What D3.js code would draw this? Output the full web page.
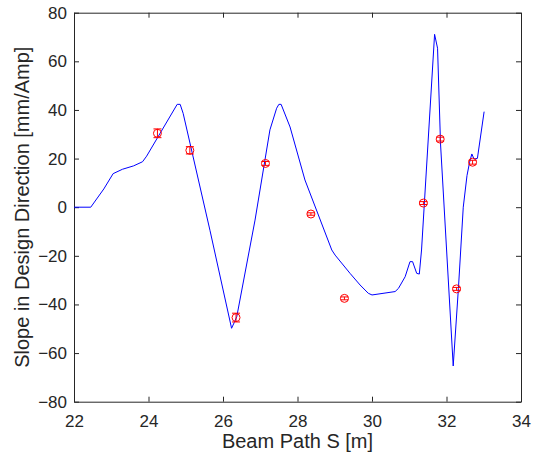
<!DOCTYPE html>
<html>
<head>
<meta charset="utf-8">
<script src="https://cdn.jsdelivr.net/npm/d3@7"></script>
<style>
  body { margin: 0; background: #fff; }
  text { font-family: "Liberation Sans", Arial, sans-serif; fill: #262626; }
</style>
</head>
<body>
<svg id="chart" width="539" height="454"></svg>
<script>
// Simulated curve (blue line)
const lineS = [22.0, 22.45, 22.8, 23.05, 23.3, 23.6, 23.84, 23.95, 24.77, 24.85, 24.93, 25.65, 26.23, 26.3, 26.37, 26.86, 27.26, 27.44, 27.5, 27.56, 27.8, 28.2, 28.92, 29.01, 29.41, 29.68, 29.9, 30.0, 30.62, 30.71, 30.89, 31.02, 31.09, 31.2, 31.27, 31.33, 31.68, 31.76, 31.84, 32.18, 32.32, 32.45, 32.55, 32.62, 32.68, 32.74, 32.83, 33.01];
const lineSlope = [0, 0, 7.5, 13.8, 15.6, 17.0, 18.7, 21.0, 42.3, 42.3, 38.6, -9.5, -49.8, -47.5, -45.0, -5.3, 31.8, 40.7, 42.3, 42.3, 33.0, 11.2, -17.6, -19.7, -27.2, -32.0, -35.4, -36.1, -34.7, -33.4, -28.6, -22.4, -22.4, -27.2, -27.5, -17.6, 71.1, 65.4, 26.0, -65.3, -33.4, 0.0, 13.0, 18.5, 21.9, 19.8, 20.1, 39.3];

// Measured points (red circles with error bars)
const measS = [24.24, 25.11, 26.35, 27.14, 28.36, 29.26, 31.38, 31.83, 32.27, 32.70];
const measSlope = [30.4, 23.4, -45.4, 18.0, -2.8, -37.5, 1.7, 28.0, -33.6, 18.5];
const measErr = [1.8, 1.5, 1.8, 0.8, 0.5, 0.6, 0.6, 0.8, 0.6, 0.8];

const xTicks = [22, 24, 26, 28, 30, 32, 34];
const yTicks = [-80, -60, -40, -20, 0, 20, 40, 60, 80];
const xLabel = "Beam Path S [m]";
const yLabel = "Slope in Design Direction [mm/Amp]";

const svg = d3.select("#chart");
const mLeft = 74, mRight = 521, mTop = 12.7, mBottom = 401.7;
const x = d3.scaleLinear().domain([22, 34]).range([mLeft, mRight]);
const y = d3.scaleLinear().domain([-80, 80]).range([mBottom, mTop]);
const axisColor = "#262626";

function styleAxis(g) {
  g.selectAll("path").attr("stroke", axisColor).attr("stroke-width", 1);
  g.selectAll("line").attr("stroke", axisColor);
  g.selectAll("text").style("font-size", "17px").attr("fill", axisColor);
}
svg.append("g").attr("transform", `translate(0,${mBottom})`)
  .call(d3.axisBottom(x).tickValues(xTicks).tickSizeInner(-5).tickSizeOuter(0).tickPadding(13).tickFormat(d3.format("d")))
  .call(styleAxis);
svg.append("g").attr("transform", `translate(0,${mTop})`)
  .call(d3.axisTop(x).tickValues(xTicks).tickSizeInner(-5).tickSizeOuter(0).tickFormat(""))
  .call(styleAxis);
svg.append("g").attr("transform", `translate(${mLeft},0)`)
  .call(d3.axisLeft(y).tickValues(yTicks).tickSizeInner(-5).tickSizeOuter(0).tickPadding(7).tickFormat(d3.format("d")))
  .call(styleAxis);
svg.append("g").attr("transform", `translate(${mRight},0)`)
  .call(d3.axisRight(y).tickValues(yTicks).tickSizeInner(-5).tickSizeOuter(0).tickFormat(""))
  .call(styleAxis);

// Blue line
const lineData = lineS.map((s, i) => [s, lineSlope[i]]);
svg.append("path")
  .datum(lineData)
  .attr("fill", "none")
  .attr("stroke", "#0000ff")
  .attr("stroke-width", 1)
  .attr("d", d3.line().x(d => x(d[0])).y(d => y(d[1])));

// Error bars and markers
const meas = measS.map((s, i) => ({ s, v: measSlope[i], e: measErr[i] }));
const eb = svg.append("g").attr("stroke", "#ff0000").attr("stroke-width", 1).attr("fill", "none");
const cap = 4;
meas.forEach(d => {
  const cx = x(d.s), y1 = y(d.v + d.e), y2 = y(d.v - d.e);
  eb.append("line").attr("x1", cx).attr("x2", cx).attr("y1", y1).attr("y2", y2);
  eb.append("line").attr("x1", cx - cap).attr("x2", cx + cap).attr("y1", y1).attr("y2", y1);
  eb.append("line").attr("x1", cx - cap).attr("x2", cx + cap).attr("y1", y2).attr("y2", y2);
  eb.append("circle").attr("cx", cx).attr("cy", y(d.v)).attr("r", 4);
});

// Axis labels
svg.append("text")
  .attr("x", (mLeft + mRight) / 2).attr("y", 448)
  .attr("text-anchor", "middle")
  .style("font-size", "20px")
  .text(xLabel);
svg.append("text")
  .attr("transform", `translate(29,${(mTop + mBottom) / 2}) rotate(-90)`)
  .attr("text-anchor", "middle")
  .style("font-size", "20px")
  .text(yLabel);
</script>
</body>
</html>
